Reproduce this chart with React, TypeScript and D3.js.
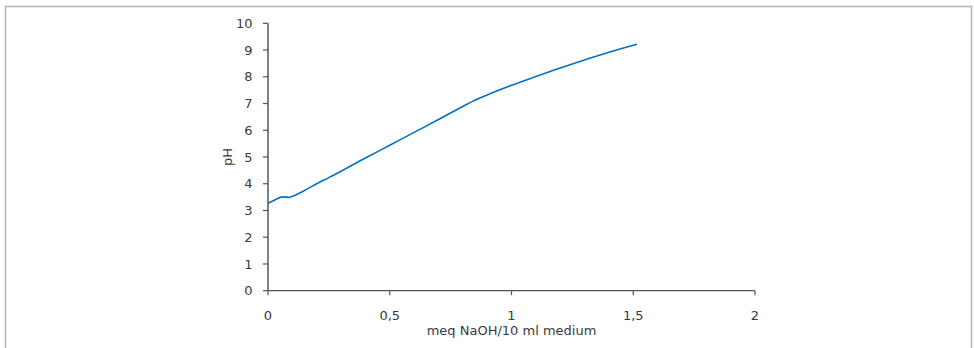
import React from "react";
import * as d3 from "d3";

const xValues = [0, 0.03, 0.055, 0.07, 0.085, 0.1, 0.15, 0.2, 0.25, 0.3, 0.4, 0.5, 0.6, 0.7, 0.8, 0.84, 0.9, 1.0, 1.1, 1.2, 1.3, 1.4, 1.515];
const phValues = [3.27, 3.4, 3.5, 3.51, 3.49, 3.53, 3.75, 4.0, 4.23, 4.47, 4.96, 5.44, 5.92, 6.4, 6.89, 7.08, 7.32, 7.68, 8.01, 8.33, 8.63, 8.92, 9.22];
const xTicks = [0, 0.5, 1, 1.5, 2];
const yTicks = [0, 1, 2, 3, 4, 5, 6, 7, 8, 9, 10];
const xTitle = "meq NaOH/10 ml medium";
const yTitle = "pH";

const W = 974;
const H = 348;
const left = 268;
const right = 755;
const top = 23.3;
const bottom = 290.7;
const font = "'DejaVu Sans', Verdana, sans-serif";
const textColor = "#3a3a3a";

export default function App() {
  const x = d3.scaleLinear().domain([0, 2]).range([left, right]);
  const y = d3.scaleLinear().domain([0, 10]).range([bottom, top]);
  const pts = xValues.map((v, i) => [v, phValues[i]] as [number, number]);
  const line = d3
    .line<[number, number]>()
    .x((d) => x(d[0]))
    .y((d) => y(d[1]))
    .curve(d3.curveMonotoneX);
  const fmt = (v: number) => String(v).replace(".", ",");

  return (
    <svg
      width={W}
      height={H}
      style={{ position: "absolute", left: 0, top: 0, background: "#fff" }}
    >
      <rect x={5.5} y={6.5} width={966} height={360} fill="#fff" stroke="#b4b4b4" strokeWidth={1.5} />
      {/* y axis */}
      <line x1={left} x2={left} y1={top} y2={bottom} stroke="#2a2a2a" strokeWidth={1.2} />
      {yTicks.map((t) => (
        <g key={"y" + t}>
          <line x1={left - 5} x2={left} y1={y(t)} y2={y(t)} stroke="#555" strokeWidth={1.2} />
          <text
            x={252.5}
            y={y(t)}
            dy="0.36em"
            textAnchor="end"
            fontFamily={font}
            fontSize={13}
            fill={textColor}
          >
            {t}
          </text>
        </g>
      ))}
      {/* x axis */}
      <line x1={left} x2={right} y1={bottom} y2={bottom} stroke="#555" strokeWidth={1.2} />
      {xTicks.map((t) => (
        <g key={"x" + t}>
          <line x1={x(t)} x2={x(t)} y1={bottom} y2={bottom + 4.5} stroke="#555" strokeWidth={1.2} />
          <text
            x={x(t)}
            y={320}
            textAnchor="middle"
            fontFamily={font}
            fontSize={13}
            fill={textColor}
          >
            {fmt(t)}
          </text>
        </g>
      ))}
      <text
        x={(left + right) / 2}
        y={335}
        textAnchor="middle"
        fontFamily={font}
        fontSize={13}
        fill={textColor}
      >
        {xTitle}
      </text>
      <text
        transform={`translate(${232},${(top + bottom) / 2}) rotate(-90)`}
        textAnchor="middle"
        fontFamily={font}
        fontSize={13}
        fill={textColor}
      >
        {yTitle}
      </text>
      <path d={line(pts) || ""} fill="none" stroke="#0072c6" strokeWidth={1.6} />
    </svg>
  );
}
